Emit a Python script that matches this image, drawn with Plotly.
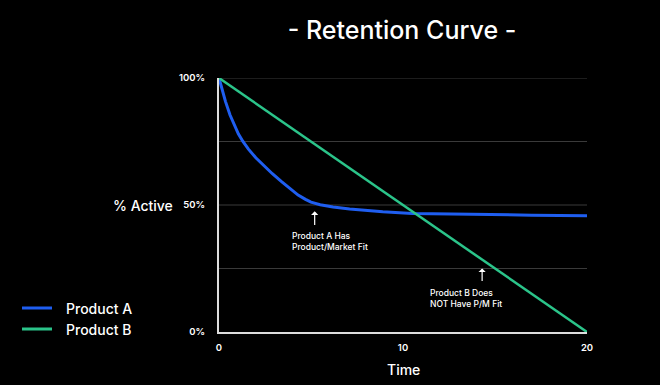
import plotly.graph_objects as go

time_a = [0, 0.2, 0.35, 0.6, 0.8, 1.05, 1.3, 1.6, 2.0, 2.5, 2.9, 3.4, 3.8, 4.3, 4.7, 5.0, 5.5, 6.2, 7.1,
          8.0, 8.9, 10.5, 12, 13.5, 15, 17, 20]
active_a = [100, 94.5, 90.8, 85.4, 81.8, 78.0, 75.0, 72.0, 68.6, 65.0, 62.3, 59.2, 56.8, 53.9, 52.2, 51.1,
            50.1, 49.2, 48.4, 47.8, 47.3, 46.7, 46.5, 46.3, 46.1, 46.0, 45.8]
time_b = [0, 5, 10, 15, 20]
active_b = [100, 75, 50, 25, 0]

series_names = ["Product A", "Product B"]
x_ticks = [0, 10, 20]
y_ticks = [0, 50, 100]
y_tick_labels = ["0%", "50%", "100%"]
grid_levels = [25, 50, 75, 100]

BLUE = "#1f5ef0"
GREEN = "#2bc48a"
FONT = "Inter"

# plot area in page pixels
PL, PR, PT, PB = 219, 587, 78, 332
PW, PH = PR - PL, PB - PT


def px_x(p):
    return (p - PL) / PW


def px_y(p):
    return (PB - p) / PH


fig = go.Figure()
fig.add_trace(go.Scatter(x=time_a, y=active_a, mode="lines", name=series_names[0],
                         line=dict(color=BLUE, width=3), showlegend=False))
fig.add_trace(go.Scatter(x=time_b, y=active_b, mode="lines", name=series_names[1],
                         line=dict(color=GREEN, width=2.5), showlegend=False))

for g in grid_levels:
    fig.add_shape(type="line", xref="paper", x0=0, x1=1, yref="y", y0=g, y1=g,
                  line=dict(color="#3a3a3a", width=1), layer="below")

# legend drawn at the left bottom
for name, color, ypx in [(series_names[0], BLUE, 308), (series_names[1], GREEN, 329)]:
    fig.add_shape(type="line", xref="paper", yref="paper", x0=px_x(22), x1=px_x(52),
                  y0=px_y(ypx), y1=px_y(ypx), line=dict(color=color, width=3))
    fig.add_annotation(text=name, xref="paper", yref="paper", x=px_x(64), y=px_y(ypx),
                       xanchor="left", yanchor="middle", showarrow=False,
                       font=dict(family=FONT, size=14, color="white", weight=500))

fig.add_annotation(x=5.2, y=47.5, ax=5.2, ay=41.5, xref="x", yref="y", axref="x", ayref="y",
                   showarrow=True, arrowhead=1, arrowsize=1, arrowwidth=1.2, arrowcolor="white", text="")
fig.add_annotation(x=3.85, y=35.5, xref="x", yref="y", xanchor="left", yanchor="middle", align="left",
                   showarrow=False, text="Product A Has<br>Product/Market Fit",
                   font=dict(family=FONT, size=8.5, color="white", weight=500))
fig.add_annotation(x=14.3, y=25, ax=14.3, ay=19.5, xref="x", yref="y", axref="x", ayref="y",
                   showarrow=True, arrowhead=1, arrowsize=1, arrowwidth=1.2, arrowcolor="white", text="")
fig.add_annotation(x=11.35, y=13, xref="x", yref="y", xanchor="left", yanchor="middle", align="left",
                   showarrow=False, text="Product B Does<br>NOT Have P/M Fit",
                   font=dict(family=FONT, size=8.5, color="white", weight=500))

fig.add_annotation(text="% Active", xref="paper", yref="y", x=px_x(175), y=50, xanchor="right",
                   showarrow=False, font=dict(family=FONT, size=14, color="white", weight=500))
fig.add_annotation(text="Time", xref="x", yref="paper", x=10, y=px_y(369), yanchor="middle",
                   showarrow=False, font=dict(family=FONT, size=14, color="white", weight=500))

fig.update_layout(
    width=660, height=385,
    paper_bgcolor="black", plot_bgcolor="black",
    margin=dict(l=PL, r=660 - PR, t=PT, b=385 - PB),
    title=dict(text="- Retention Curve -", x=402 / 660, xanchor="center", y=1 - 30 / 385,
               yanchor="middle", font=dict(family=FONT, size=25, color="white", weight=500)),
    font=dict(family=FONT, color="white"),
    showlegend=False,
    xaxis=dict(range=[0, 20], tickvals=x_ticks, showgrid=False, zeroline=False,
               showline=True, linecolor="#dddddd", linewidth=2, ticks="", ticklabelstandoff=6,
               tickfont=dict(family=FONT, size=9.5, color="white", weight=600)),
    yaxis=dict(range=[0, 100], tickvals=y_ticks, ticktext=y_tick_labels, showgrid=False, zeroline=False,
               showline=True, linecolor="#dddddd", linewidth=2, ticks="", ticklabelstandoff=10,
               tickfont=dict(family=FONT, size=9.5, color="white", weight=600)),
)

page_css = ("document.documentElement.style.background='black';"
            "document.body.style.background='black';"
            "document.body.style.margin='0';"
            "document.body.style.overflow='hidden';")

fig.write_html("out.html", post_script=page_css, config={"displayModeBar": False})
